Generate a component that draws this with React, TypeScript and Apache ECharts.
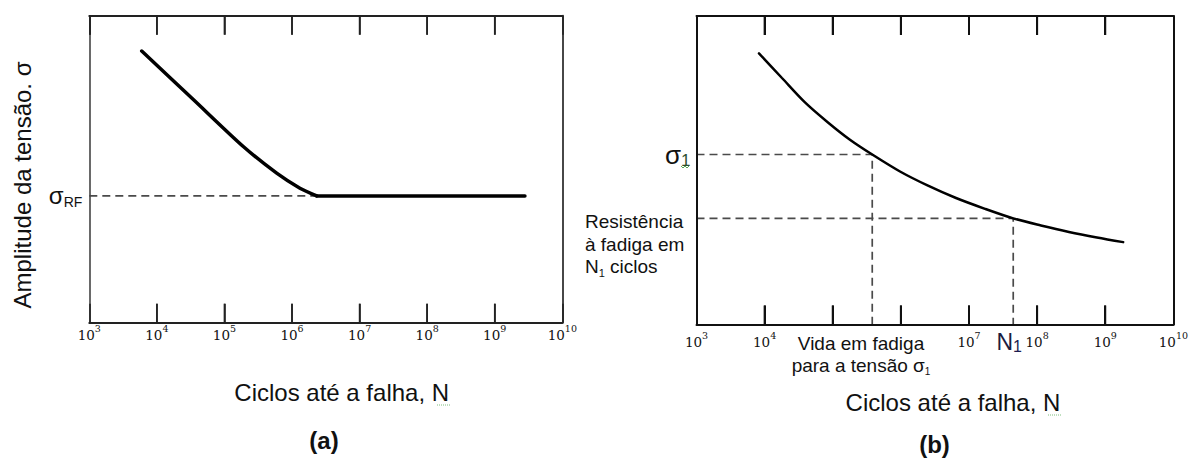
import React, { useEffect, useRef } from "react";
import * as echarts from "echarts";

// Panel (a): S-N curve with a fatigue (endurance) limit
const curveA_N = [5970, 34600, 190000, 593000, 1310000, 2320000];
const curveA_S = [88.5, 72.7, 57.4, 48.7, 43.8, 41.3];
const plateauA_N = [2320000, 2800000000];
const sigmaRF = 41.3;

// Panel (b): S-N curve with no fatigue limit
const curveB_N = [8260, 17980, 39110, 85100, 178900, 380000, 971000, 2503000, 6447000, 17170000, 44600000, 113700000, 292900000, 754600000, 1834000000];
const curveB_S = [87.9, 79.9, 72.0, 65.5, 59.9, 55.1, 49.6, 45.0, 41.0, 37.5, 34.4, 32.1, 30.0, 28.2, 26.7];
const sigma1 = 55.1;
const lifeAtSigma1 = 380000;
const N1 = 44600000;
const strengthAtN1 = 34.4;

// Decade tick labels (exponents of 10) and the ones left unlabeled in (b)
const tickExponents = [3, 4, 5, 6, 7, 8, 9, 10];
const innerTickExponents = [4, 5, 6, 7, 8, 9];
const unlabeledExponentsB = [5, 6];
const axisMinN = 1e3;
const axisMaxN = 1e10;

const SANS = "'Liberation Sans', Arial, sans-serif";
const SERIF = "'DejaVu Serif', serif";
const DASH_COLOR = "#4a4a4a";
const TICK_PX = 19;

const tickRich = {
  base: { fontFamily: SERIF, fontSize: 13.5, color: "#111", lineHeight: 18, verticalAlign: "bottom" },
  sup: { fontFamily: SERIF, fontSize: 9.5, color: "#111", lineHeight: 9, verticalAlign: "top" },
};

function decadeLabel(hidden: number[]) {
  return (v: number) => {
    const e = Math.round(Math.log10(v));
    if (!tickExponents.includes(e) || hidden.includes(e)) return "";
    return `{base|10}{sup|${e}}`;
  };
}

// Bottom axis rests on the stress zero; top axis is pinned to the top edge
function logAxis(gridIndex: number, position: "top" | "bottom", hidden: number[], margin: number, color: string, tickWidth: number) {
  return {
    gridIndex,
    type: "log",
    logBase: 10,
    min: axisMinN,
    max: axisMaxN,
    position,
    z: 5,
    axisLine: position === "bottom"
      ? { show: true, lineStyle: { color, width: 2 } }
      : { show: true, onZero: false, lineStyle: { color, width: 2 } },
    axisTick: { show: true, inside: true, length: TICK_PX, lineStyle: { color, width: tickWidth } },
    axisLabel: {
      show: position === "bottom",
      showMinLabel: true,
      showMaxLabel: true,
      margin,
      formatter: decadeLabel(hidden),
      rich: tickRich,
    },
    splitLine: { show: false },
    minorTick: { show: false },
  };
}

// Vertical edges of each plot frame
function edgeAxis(gridIndex: number, position: "left" | "right", color: string, width: number) {
  return {
    gridIndex,
    type: "value",
    min: 0,
    max: 100,
    position,
    z: 5,
    axisLine: { show: true, onZero: false, lineStyle: { color, width } },
    axisTick: { show: false },
    axisLabel: { show: false },
    splitLine: { show: false },
  };
}

function dashed(xAxisIndex: number, yAxisIndex: number, data: number[][]) {
  return {
    type: "line",
    xAxisIndex,
    yAxisIndex,
    data,
    symbol: "none",
    silent: true,
    z: 1,
    lineStyle: { color: DASH_COLOR, width: 1.7, type: [8, 5] },
  };
}

export default function App() {
  const ref = useRef<HTMLDivElement>(null);

  useEffect(() => {
    if (!ref.current) return;
    const chart = echarts.init(ref.current, undefined, { renderer: "svg" });

    const curveA = curveA_N.map((n, i) => [n, curveA_S[i]]);
    const plateauA = plateauA_N.map((n) => [n, sigmaRF]);
    const curveB = curveB_N.map((n, i) => [n, curveB_S[i]]);

    chart.setOption({
      animation: false,
      backgroundColor: "#fff",
      grid: [
        { left: 89.3, top: 15.7, width: 473, height: 307, show: false },
        { left: 696.5, top: 16, width: 477, height: 308.5, show: false },
      ],
      xAxis: [
        logAxis(0, "bottom", [], 1, "#222", 1.6),
        logAxis(0, "top", [], 1, "#222", 1.6),
        logAxis(1, "bottom", unlabeledExponentsB, 6, "#111", 2),
        logAxis(1, "top", [], 6, "#111", 2),
      ],
      yAxis: [
        edgeAxis(0, "left", "#444", 1.6),
        edgeAxis(0, "right", "#333", 1.8),
        edgeAxis(1, "left", "#111", 2),
        edgeAxis(1, "right", "#111", 2),
      ],
      series: [
        dashed(0, 0, [[axisMinN, sigmaRF], [plateauA_N[0], sigmaRF]]),
        {
          type: "line",
          xAxisIndex: 0,
          yAxisIndex: 0,
          data: curveA,
          smooth: 0.25,
          symbol: "none",
          z: 3,
          lineStyle: { color: "#000", width: 3.5, cap: "round" },
        },
        {
          type: "line",
          xAxisIndex: 0,
          yAxisIndex: 0,
          data: plateauA,
          symbol: "none",
          z: 3,
          lineStyle: { color: "#000", width: 3.5, cap: "round" },
        },
        dashed(2, 2, [[axisMinN, sigma1], [lifeAtSigma1, sigma1], [lifeAtSigma1, 0]]),
        dashed(2, 2, [[axisMinN, strengthAtN1], [N1, strengthAtN1], [N1, 0]]),
        {
          type: "line",
          xAxisIndex: 2,
          yAxisIndex: 2,
          data: curveB,
          smooth: 0.3,
          symbol: "none",
          z: 3,
          lineStyle: { color: "#000", width: 2.5, cap: "round" },
        },
      ],
    });

    // Inward decade ticks on the bottom and top edges, placed through each panel's scales
    const tickLines = (xAxisIndex: number, yAxisIndex: number, color: string, width: number) => {
      const els: any[] = [];
      innerTickExponents.forEach((e) => {
        const bottom = chart.convertToPixel({ xAxisIndex, yAxisIndex }, [Math.pow(10, e), 0]) as number[];
        const top = chart.convertToPixel({ xAxisIndex, yAxisIndex }, [Math.pow(10, e), 100]) as number[];
        els.push({
          type: "line",
          silent: true,
          z: 100,
          shape: { x1: bottom[0], y1: bottom[1], x2: bottom[0], y2: bottom[1] - TICK_PX },
          style: { stroke: color, lineWidth: width },
        });
        els.push({
          type: "line",
          silent: true,
          z: 100,
          shape: { x1: top[0], y1: top[1], x2: top[0], y2: top[1] + TICK_PX },
          style: { stroke: color, lineWidth: width },
        });
      });
      return els;
    };

    // Annotations anchored to the values they name
    const pRF = chart.convertToPixel({ xAxisIndex: 0, yAxisIndex: 0 }, [axisMinN, sigmaRF]) as number[];
    const pS1 = chart.convertToPixel({ xAxisIndex: 2, yAxisIndex: 2 }, [axisMinN, sigma1]) as number[];
    const pN1 = chart.convertToPixel({ xAxisIndex: 2, yAxisIndex: 2 }, [N1, 0]) as number[];

    const txt = "#111";
    chart.setOption({
      graphic: [
        ...tickLines(0, 0, "#222", 1.6),
        ...tickLines(2, 2, "#111", 2),
        {
          type: "text",
          x: 22,
          y: 185,
          rotation: Math.PI / 2,
          style: {
            text: "Amplitude da tensão. σ",
            font: `24px ${SANS}`,
            fill: txt,
            align: "center",
            verticalAlign: "middle",
          },
        },
        {
          type: "text",
          x: pRF[0] - 7,
          y: pRF[1],
          style: {
            text: "{s|σ}{r|RF}",
            align: "right",
            verticalAlign: "middle",
            rich: {
              s: { fontFamily: SANS, fontSize: 24, fill: txt, lineHeight: 26 },
              r: { fontFamily: SANS, fontSize: 14, fill: txt, lineHeight: 20, verticalAlign: "bottom" },
            },
          },
        },
        {
          type: "text",
          x: 341.7,
          y: 392.5,
          style: { text: "Ciclos até a falha, N", font: `24px ${SANS}`, fill: txt, align: "center", verticalAlign: "middle" },
        },
        { type: "line", shape: { x1: 437, y1: 405, x2: 451, y2: 405 }, style: { stroke: "#7fbf7f", lineWidth: 1, lineDash: [1, 1] } },
        {
          type: "text",
          x: 324,
          y: 440,
          style: { text: "(a)", font: `bold 24px ${SANS}`, fill: txt, align: "center", verticalAlign: "middle" },
        },
        {
          type: "text",
          x: pS1[0] - 6,
          y: pS1[1],
          style: {
            text: "{s|σ}{n|1}",
            align: "right",
            verticalAlign: "middle",
            rich: {
              s: { fontFamily: SANS, fontSize: 26, fill: txt, lineHeight: 28 },
              n: { fontFamily: SANS, fontSize: 17, fill: "#2f4f2f", lineHeight: 22, verticalAlign: "bottom" },
            },
          },
        },
        { type: "polyline", shape: { points: [[681, 166], [683, 168], [685, 166], [687, 168], [689, 166]] }, style: { stroke: "#5aa85a", lineWidth: 1, fill: null } },
        {
          type: "text",
          x: 585,
          y: 210.5,
          style: {
            text: "{t|Resistência}\n{t|à fadiga em}\n{t|N}{u|1}{t| ciclos}",
            align: "left",
            verticalAlign: "top",
            rich: {
              t: { fontFamily: SANS, fontSize: 19, fill: txt, lineHeight: 22.5 },
              u: { fontFamily: SANS, fontSize: 11, fill: txt, lineHeight: 18, verticalAlign: "bottom" },
            },
          },
        },
        {
          type: "text",
          x: 861,
          y: 332,
          style: {
            text: "{t|Vida em fadiga}\n{t|para a tensão }{g|σ}{u|1}",
            align: "center",
            verticalAlign: "top",
            rich: {
              t: { fontFamily: SANS, fontSize: 19, fill: txt, lineHeight: 22 },
              g: { fontFamily: SANS, fontSize: 19, fill: txt, lineHeight: 22 },
              u: { fontFamily: SANS, fontSize: 10, fill: txt, lineHeight: 18, verticalAlign: "bottom" },
            },
          },
        },
        {
          type: "text",
          x: pN1[0] - 4,
          y: 341.7,
          style: {
            text: "{n|N}{d|1}",
            align: "center",
            verticalAlign: "middle",
            rich: {
              n: { fontFamily: SANS, fontSize: 23, fill: "#1c1c40", lineHeight: 26 },
              d: { fontFamily: SANS, fontSize: 16, fill: "#1c1c50", lineHeight: 21, verticalAlign: "bottom" },
            },
          },
        },
        {
          type: "text",
          x: 953,
          y: 402,
          style: { text: "Ciclos até a falha, N", font: `24px ${SANS}`, fill: txt, align: "center", verticalAlign: "middle" },
        },
        { type: "line", shape: { x1: 1048, y1: 415, x2: 1062, y2: 415 }, style: { stroke: "#7fbf7f", lineWidth: 1, lineDash: [1, 1] } },
        {
          type: "text",
          x: 934.5,
          y: 444,
          style: { text: "(b)", font: `bold 24px ${SANS}`, fill: txt, align: "center", verticalAlign: "middle" },
        },
      ],
    });

    return () => chart.dispose();
  }, []);

  return (
    <div
      ref={ref}
      style={{ position: "absolute", left: 0, top: 0, width: 1191, height: 458, background: "#fff" }}
    />
  );
}
